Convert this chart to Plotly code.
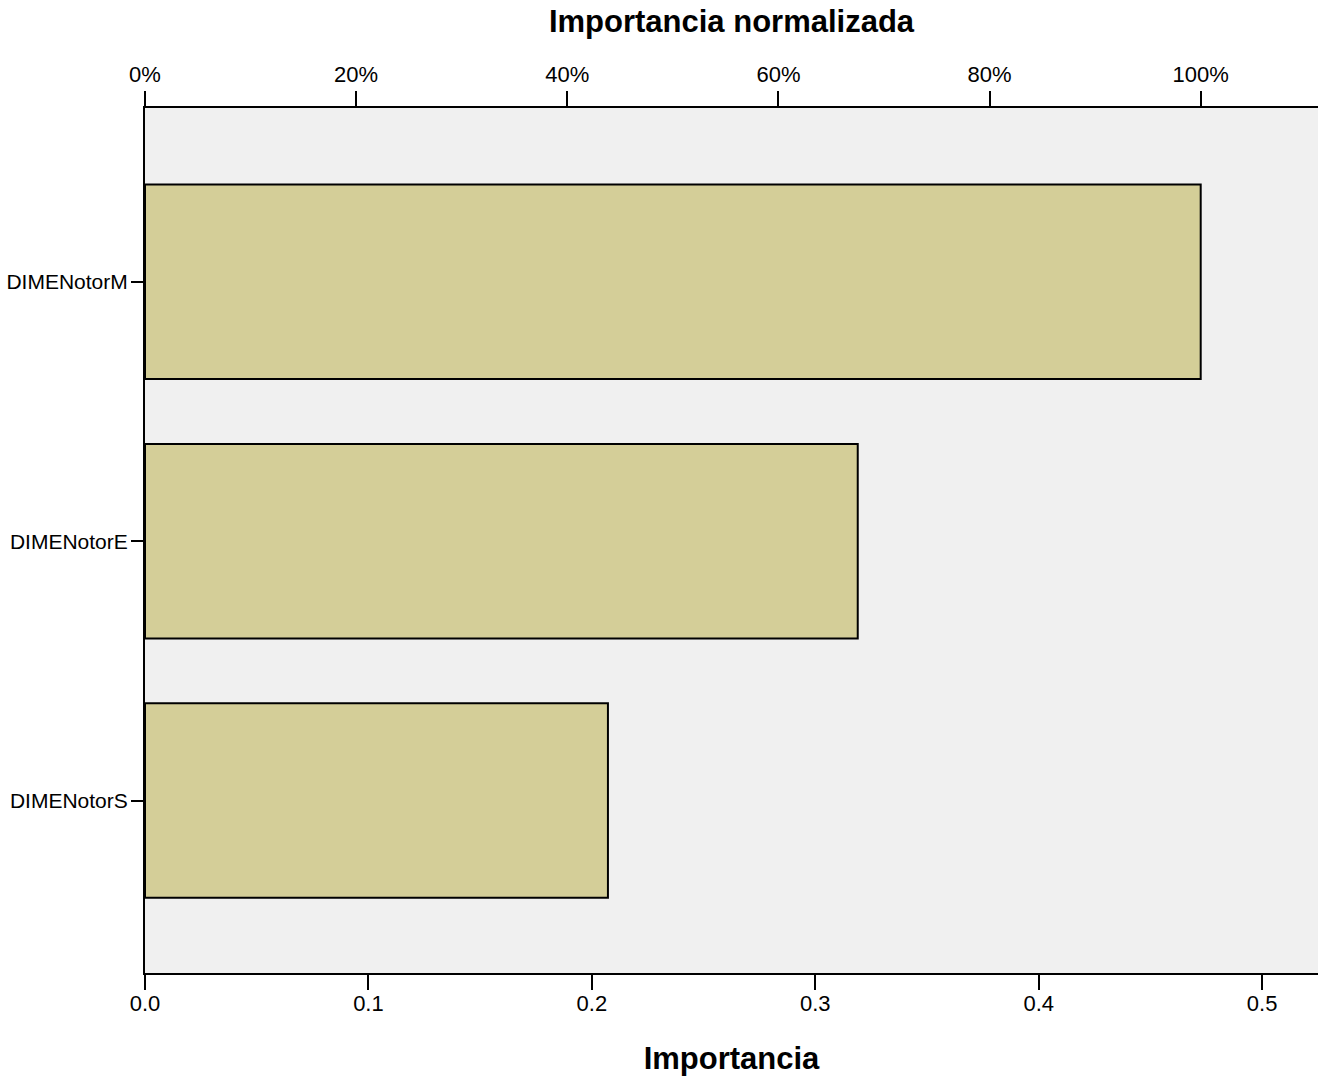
import plotly.graph_objects as go

# Variable importance (bottom axis) for each predictor
predictors = ["DIMENotorS", "DIMENotorE", "DIMENotorM"]
importance = [0.2072, 0.3190, 0.4725]

# Normalised importance (top axis), relative to the most important predictor
max_imp = max(importance)
normalized = [v / max_imp for v in importance]

x_max = 0.525
bottom_ticks = [0.0, 0.1, 0.2, 0.3, 0.4, 0.5]
top_ticks = [0.0, 0.2, 0.4, 0.6, 0.8, 1.0]

FONT = "Liberation Sans, Arial, sans-serif"

fig = go.Figure()

fig.add_trace(go.Bar(
    x=importance,
    y=predictors,
    orientation="h",
    width=0.75,
    marker=dict(color="#D4CE98", line=dict(color="#000000", width=2)),
    xaxis="x",
    yaxis="y",
    showlegend=False,
    hoverinfo="x+y",
))

# Invisible trace that anchors the top (normalised) axis
fig.add_trace(go.Scatter(
    x=normalized,
    y=predictors,
    mode="markers",
    marker=dict(opacity=0),
    xaxis="x2",
    yaxis="y",
    showlegend=False,
    hoverinfo="skip",
))

fig.update_layout(
    width=1318,
    height=1076,
    margin=dict(l=145, r=0, t=108, b=103),
    paper_bgcolor="#FFFFFF",
    plot_bgcolor="#F0F0F0",
    font=dict(family=FONT, size=22, color="#000000"),
    xaxis=dict(
        range=[0, x_max],
        tickvals=bottom_ticks,
        ticktext=[f"{t:.1f}" for t in bottom_ticks],
        ticks="outside",
        ticklen=15,
        tickwidth=2,
        tickcolor="#000000",
        ticklabelstandoff=-5,
        showline=True,
        linecolor="#000000",
        linewidth=2,
        showgrid=False,
        zeroline=False,
        tickfont=dict(size=22),
        title=dict(text="<b>Importancia</b>", font=dict(size=31), standoff=34),
    ),
    xaxis2=dict(
        overlaying="x",
        side="top",
        anchor="y",
        range=[0, x_max / max_imp],
        tickvals=top_ticks,
        ticktext=[f"{int(round(t * 100))}%" for t in top_ticks],
        ticks="outside",
        ticklen=15,
        tickwidth=2,
        tickcolor="#000000",
        showline=True,
        linecolor="#000000",
        linewidth=2,
        showgrid=False,
        zeroline=False,
        tickfont=dict(size=22),
        title=dict(text="<b>Importancia normalizada</b>", font=dict(size=31), standoff=20),
    ),
    yaxis=dict(
        type="category",
        categoryorder="array",
        categoryarray=predictors,
        range=[-0.665, 2.67],
        ticks="outside",
        ticklen=12,
        tickwidth=2,
        tickcolor="#000000",
        ticklabelstandoff=-1,
        showline=True,
        linecolor="#000000",
        linewidth=2,
        showgrid=False,
        zeroline=False,
        tickfont=dict(size=21),
    ),
)

fig.write_html("out.html")
